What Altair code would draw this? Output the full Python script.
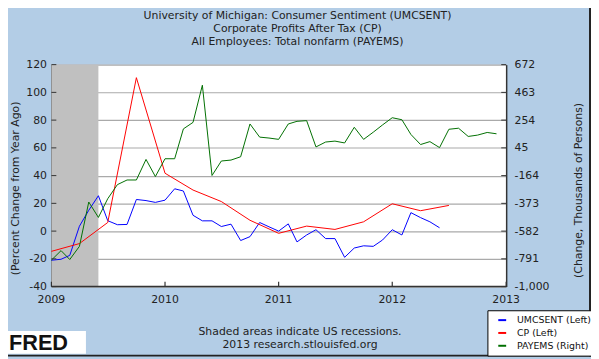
import altair as alt
import pandas as pd

# ---------------- data ----------------
umcsent_vals = [
    -21.0, -20.3, -17.5, 3.5, 15.0, 25.5, 7.5, 4.6, 4.8, 22.8, 22.0, 20.7,
    22.3, 30.5, 28.9, 11.4, 7.4, 7.4, 3.3, 5.0, -6.8, -4.0, 6.2, 3.1,
    0.0, 5.2, -7.8, -2.8, 1.0, -5.4, -5.4, -18.9, -12.2, -10.6, -11.0, -6.4,
    1.0, -2.8, 13.3, 9.7, 6.7, 2.4,
]
cp_vals = [-14.6, -9.0, 6.2, 110.6, 41.7, 29.6, 21.3, 7.8, -1.6, 3.6, 1.2, 6.7, 19.7, 14.7, 18.5]
payems_vals = [
    -801, -729, -796, -697, -363, -479, -338, -232, -197, -197, -42, -171,
    -37, -37, 188, 237, 517, -163, -54, -47, -22, 225, 126, 119,
    109, 225, 245, 250, 52, 89, 96, 82, 200, 109, 163, 218,
    272, 257, 146, 70, 92, 47, 185, 193, 131, 141, 161, 151,
]
series_names = ["UMCSENT (Left)", "CP (Left)", "PAYEMS (Right)"]
series_colors = ["#0000FF", "#FF0000", "#006F00"]
year_ticks = ["2009-01-01", "2010-01-01", "2011-01-01", "2012-01-01", "2013-01-01"]
left_ticks = [-40, -20, 0, 20, 40, 60, 80, 100, 120]
right_ticks = [-1000, -791, -582, -373, -164, 45, 254, 463, 672]
recession_start = ["2009-01-01"]
recession_end = ["2009-06-01"]
title_text = ("University of Michigan: Consumer Sentiment (UMCSENT)\n"
              "Corporate Profits After Tax (CP)\n"
              "All Employees: Total nonfarm (PAYEMS)")
footer_text = "Shaded areas indicate US recessions.\n2013 research.stlouisfed.org"

# ---------------- tables ----------------
um_dates = pd.date_range("2009-01-01", periods=len(umcsent_vals), freq="MS")
cp_dates = pd.date_range("2009-01-01", periods=len(cp_vals), freq="QS")
pay_dates = pd.date_range("2009-01-01", periods=len(payems_vals), freq="MS")

left_df = pd.concat([
    pd.DataFrame({"date": um_dates, "value": umcsent_vals, "series": series_names[0]}),
    pd.DataFrame({"date": cp_dates, "value": cp_vals, "series": series_names[1]}),
])
right_df = pd.DataFrame({"date": pay_dates, "value": payems_vals, "series": series_names[2]})
rec_df = pd.DataFrame({"start": pd.to_datetime(recession_start), "end": pd.to_datetime(recession_end)})
lt_df = pd.DataFrame({"v": left_ticks})
rt_df = pd.DataFrame({"v": right_ticks})
yt_df = pd.DataFrame({"d": pd.to_datetime(year_ticks)})

W, H = 461, 225
FONT = "DejaVu Sans"
AX = "#333333"

xscale = alt.Scale(domain=[alt.DateTime(year=2009, month=1, date=1),
                           alt.DateTime(year=2013, month=1, date=1)])
lscale = alt.Scale(domain=[-40, 120], nice=False, zero=False)
rscale = alt.Scale(domain=[-1000, 672], nice=False, zero=False)
cscale = alt.Scale(domain=series_names, range=series_colors)

legend = alt.Legend(orient="none", legendX=442, legendY=249, title=None,
                    fillColor="white", strokeColor="black", padding=5,
                    symbolType="stroke", symbolStrokeWidth=2, symbolSize=64,
                    labelFontSize=9.5, labelFont=FONT, labelColor="#111111",
                    labelOffset=10, rowPadding=3, symbolOffset=5)

neg_expr_d = "(datum.value < 0 ? '-' : '') + format(abs(datum.value), 'd')"
neg_expr_c = "(datum.value < 0 ? '-' : '') + format(abs(datum.value), ',')"

shade = alt.Chart(rec_df).mark_rect(color="#C0C0C0").encode(
    x=alt.X("start:T", scale=xscale, axis=None),
    x2="end:T",
    y=alt.value(0), y2=alt.value(H),
)

left_lines = alt.Chart(left_df).mark_line(strokeWidth=1).encode(
    x=alt.X("date:T", scale=xscale, axis=None),
    y=alt.Y("value:Q", scale=lscale,
            axis=alt.Axis(orient="left", values=left_ticks, grid=True, gridColor="#AAAAAA",
                          gridWidth=1.2, ticks=False, domainColor=AX,
                          domainWidth=1.5, labelPadding=5, labelExpr=neg_expr_d,
                          title="(Percent Change from Year Ago)",
                          titleX=-36, titleY=125, titleAngle=270,
                          titleAlign="center", titleBaseline="middle")),
    color=alt.Color("series:N", scale=cscale, legend=legend, sort=series_names),
)

right_line = alt.Chart(right_df).mark_line(strokeWidth=1).encode(
    x=alt.X("date:T", scale=xscale, axis=None),
    y=alt.Y("value:Q", scale=rscale,
            axis=alt.Axis(orient="right", values=right_ticks, grid=False,
                          ticks=False, domainColor=AX, domainWidth=1.5,
                          labelPadding=8, labelAlign="left", labelExpr=neg_expr_c,
                          title="(Change, Thousands of Persons)",
                          titleX=73, titleY=127, titleAngle=270,
                          titleAlign="center", titleBaseline="middle")),
    color=alt.Color("series:N", scale=cscale, legend=legend, sort=series_names),
)

left_tick_marks = alt.Chart(lt_df).mark_rule(color=AX).encode(
    y=alt.Y("v:Q", scale=lscale, axis=None),
    x=alt.value(0), x2=alt.value(5),
)
right_tick_marks = alt.Chart(rt_df).mark_rule(color=AX).encode(
    y=alt.Y("v:Q", scale=rscale, axis=None),
    x=alt.value(W - 5), x2=alt.value(W),
)
year_tick_marks = alt.Chart(yt_df).mark_rule(color=AX, strokeWidth=1.2).encode(
    x=alt.X("d:T", scale=xscale, axis=None),
    y=alt.value(H - 5), y2=alt.value(H),
)
year_labels = alt.Chart(yt_df).mark_text(
    baseline="middle", align="center", font=FONT, fontSize=11, color="#222222",
).encode(
    x=alt.X("d:T", scale=xscale, axis=None),
    text=alt.Text("d:T", format="%Y"),
    y=alt.value(H + 14),
)
x_domain = alt.Chart(pd.DataFrame({"t": ["x"]})).mark_rule(color=AX, strokeWidth=1.5).encode(
    x=alt.value(0), x2=alt.value(W), y=alt.value(H),
)

one = pd.DataFrame({"t": [title_text]})
title_mark = alt.Chart(one).mark_text(
    align="center", baseline="top", font=FONT, fontSize=11, color="#222222",
    lineBreak="\n", lineHeight=13,
).encode(text="t:N", x=alt.value(249.5), y=alt.value(-55))

foot = pd.DataFrame({"t": [footer_text]})
footer_mark = alt.Chart(foot).mark_text(
    align="center", baseline="top", font=FONT, fontSize=11, color="#222222",
    lineBreak="\n", lineHeight=13.4,
).encode(text="t:N", x=alt.value(252), y=alt.value(265))

logo = pd.DataFrame({"t": ["FRED"]})
logo_bg = alt.Chart(logo).mark_rect(color="white").encode(
    x=alt.value(-44), x2=alt.value(35), y=alt.value(270), y2=alt.value(293))
logo_text = alt.Chart(logo).mark_text(
    align="left", baseline="middle", font="Liberation Sans", fontWeight="bold",
    fontSize=22, color="#111111",
).encode(text="t:N", x=alt.value(-43), y=alt.value(282))

border = pd.DataFrame({"t": ["b"]})
border_r = alt.Chart(border).mark_rule(color="#222222", strokeWidth=2).encode(
    x=alt.value(546), y=alt.value(-60), y2=alt.value(296))
border_b = alt.Chart(border).mark_rule(color="#222222", strokeWidth=2).encode(
    y=alt.value(295), x=alt.value(-50), x2=alt.value(548))

chart = alt.layer(
    shade, left_lines, right_line, left_tick_marks, right_tick_marks, year_tick_marks,
    x_domain, year_labels,
    title_mark, footer_mark, logo_bg, logo_text, border_r, border_b,
).resolve_scale(y="independent").properties(
    width=W, height=H,
    padding={"left": 44, "top": 55, "right": 86, "bottom": 71},
    autosize="none",
    background="#B3CDE6",
).configure_view(stroke=None, fill="white").configure_axis(
    labelFont=FONT, labelFontSize=11, labelColor="#222222",
    titleFont=FONT, titleFontSize=11, titleColor="#222222", titleFontWeight="normal",
)

chart.save("out.html", embed_options={"renderer": "svg", "actions": False})
